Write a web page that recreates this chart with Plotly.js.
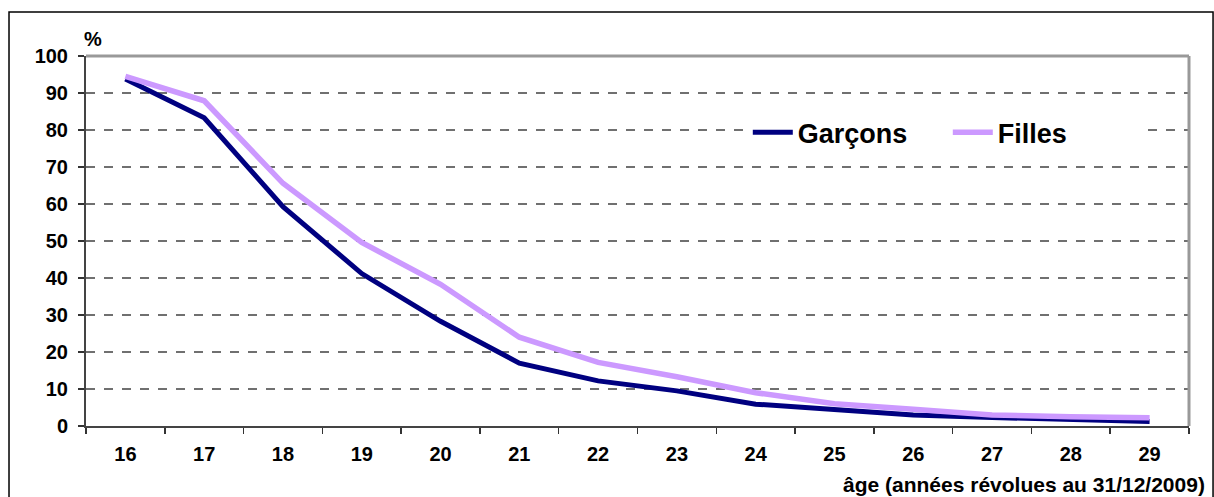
<!DOCTYPE html>
<html>
<head>
<meta charset="utf-8">
<script src="https://cdn.plot.ly/plotly-3.0.1.min.js"></script>
<style>
html,body{margin:0;padding:0;background:#fff;}
#chart{width:1214px;height:497px;}
</style>
</head>
<body>
<div id="chart"></div>
<script>
const ages = ["16","17","18","19","20","21","22","23","24","25","26","27","28","29"];
const garcons = [93.8, 83.3, 59.3, 41.2, 28.3, 17.0, 12.2, 9.5, 5.9, 4.4, 3.0, 2.3, 1.9, 1.2];
const filles  = [94.5, 87.9, 65.6, 49.6, 38.3, 24.0, 17.2, 13.3, 9.0, 6.0, 4.5, 3.0, 2.5, 2.2];
const seriesNames = ["Garçons", "Filles"];
const yTicks = [0,10,20,30,40,50,60,70,80,90,100];

const FONT = "Liberation Sans, Arial, sans-serif";

const traces = [
  {x: ages, y: garcons, name: seriesNames[0], type: "scatter", mode: "lines",
   line: {color: "#000080", width: 5}},
  {x: ages, y: filles, name: seriesNames[1], type: "scatter", mode: "lines",
   line: {color: "#CC99FF", width: 5.5}}
];

const layout = {
  width: 1214, height: 497,
  margin: {l: 86, r: 25, t: 56, b: 71},
  paper_bgcolor: "#fff", plot_bgcolor: "#fff",
  font: {family: FONT, color: "#000"},
  showlegend: true,
  legend: {
    orientation: "h", x: 0.6, y: 0.793, xanchor: "left", yanchor: "middle",
    bgcolor: "#fff", font: {family: FONT, size: 27, weight: "bold", color: "#000"},
    itemwidth: 40, tracegroupgap: 0, entrywidth: 145
  },
  xaxis: {
    type: "category", range: [-0.5, 13.5], tickson: "boundaries",
    ticks: "outside", ticklen: 6, tickwidth: 1.5, tickcolor: "#333",
    showline: true, linecolor: "#444", linewidth: 2,
    showgrid: false, zeroline: false,
    tickfont: {family: FONT, size: 20, weight: "bold", color: "#000"},
    ticklabelstandoff: 9, fixedrange: true
  },
  yaxis: {
    range: [0, 100], tickvals: yTicks, ticktext: yTicks.map(String),
    ticks: "outside", ticklen: 6, tickwidth: 1.5, tickcolor: "#333",
    showline: true, linecolor: "#444", linewidth: 2,
    showgrid: true, gridcolor: "#707070", gridwidth: 1.3, griddash: "dash",
    zeroline: false,
    tickfont: {family: FONT, size: 20, weight: "bold", color: "#000"},
    ticklabelstandoff: 6, fixedrange: true
  },
  shapes: [
    {type: "line", xref: "paper", yref: "paper", x0: 0, x1: 1, y0: 1, y1: 1,
     line: {color: "#999", width: 3}, layer: "above"},
    {type: "line", xref: "paper", yref: "paper", x0: 1, x1: 1, y0: 0, y1: 1,
     line: {color: "#999", width: 3}, layer: "above"},
    {type: "rect", xref: "paper", yref: "paper", x0: -0.0698, x1: 1.0218, y0: -0.3, y1: 1.119,
     line: {color: "#000", width: 1.5}, layer: "below"}
  ],
  annotations: [
    {text: "%", xref: "paper", yref: "paper", x: 0.006, y: 1.045,
     xanchor: "center", yanchor: "middle", showarrow: false,
     font: {family: FONT, size: 20, weight: "bold", color: "#000"}},
    {text: "âge (années révolues au 31/12/2009)", xref: "paper", yref: "paper",
     x: 1.0165, y: -0.158, xanchor: "right", yanchor: "middle", showarrow: false,
     font: {family: FONT, size: 21, weight: "bold", color: "#000"}}
  ]
};

Plotly.newPlot("chart", traces, layout, {displayModeBar: false, staticPlot: true});
</script>
</body>
</html>
